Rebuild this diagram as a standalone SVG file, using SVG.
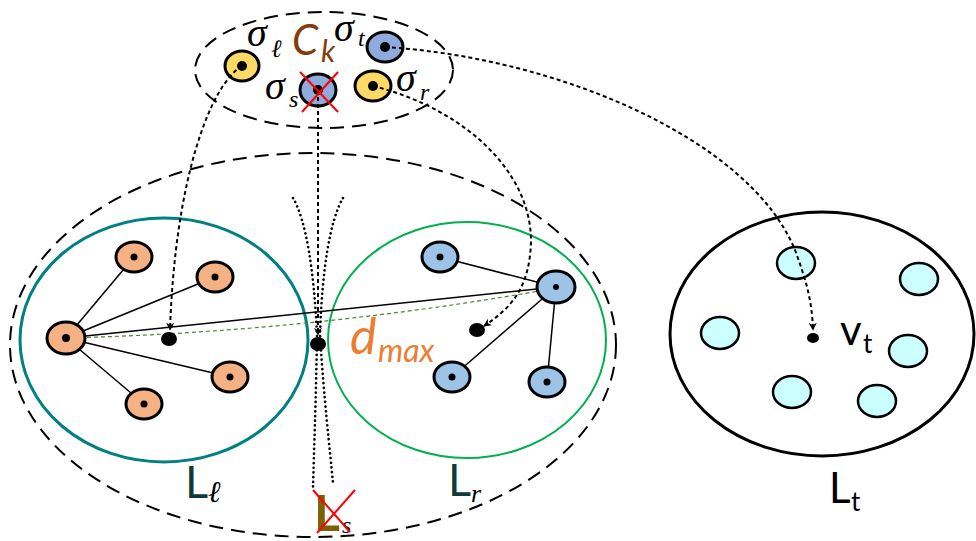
<svg xmlns="http://www.w3.org/2000/svg" width="976" height="541" viewBox="0 0 976 541">
  <style>
    .region-dash { fill: none; stroke: #000; stroke-width: 2; stroke-dasharray: 14 8; }
    .node { stroke: #000; stroke-width: 3; }
    .orange { fill: #F4B183; }
    .blue { fill: #9DC3E6; }
    .cyan { fill: #CCFFFF; stroke: #000; stroke-width: 2.5; }
    .sig-y { fill: #FFD966; stroke: #000; stroke-width: 3; }
    .sig-b { fill: #8FAADC; stroke: #000; stroke-width: 3; }
    .edge { stroke: #000; stroke-width: 1.5; fill: none; }
    .map { fill: none; stroke: #000; stroke-width: 2; stroke-dasharray: 4 3; }
    .dots { fill: none; stroke: #000; stroke-width: 2.6; stroke-dasharray: 0.1 4.6; stroke-linecap: round; }
    .sym { font-family: "Liberation Serif", serif; font-style: italic; fill: #000; }
    .lbl { font-family: Lato, "Open Sans", sans-serif; }
    .cross { stroke: #FF0000; stroke-width: 2; }
  </style>
  <defs>
    <marker id="arrow" viewBox="0 0 10 10" refX="9" refY="5" markerWidth="8" markerHeight="8" orient="auto" markerUnits="userSpaceOnUse">
      <path d="M0,0 L10,5 L0,10 L3,5 z" fill="#000"/>
    </marker>
  </defs>

  <!-- partition regions -->
  <g id="Ls">
    <ellipse cx="313" cy="345" rx="303" ry="192" class="region-dash"/>
  </g>
  <g id="Ll">
    <ellipse cx="164" cy="340" rx="144" ry="122" fill="none" stroke="#008080" stroke-width="3"/>
  </g>
  <g id="Lr">
    <ellipse cx="467" cy="340" rx="139" ry="118" fill="none" stroke="#00B050" stroke-width="2"/>
  </g>
  <g id="Lt">
    <ellipse cx="822" cy="334" rx="152" ry="122" fill="none" stroke="#000" stroke-width="3"/>
  </g>
  <g id="Ck">
    <ellipse cx="324" cy="70" rx="129" ry="58" class="region-dash"/>
  </g>

  <!-- edges inside the clusters and the diameter -->
  <g id="edges">
    <line x1="66" y1="338" x2="134" y2="257" class="edge"/>
    <line x1="66" y1="338" x2="215" y2="277" class="edge"/>
    <line x1="66" y1="338" x2="230" y2="377" class="edge"/>
    <line x1="66" y1="338" x2="144" y2="404" class="edge"/>
    <line x1="66" y1="338" x2="556" y2="287" class="edge"/>
    <line x1="556" y1="287" x2="440" y2="257" class="edge"/>
    <line x1="556" y1="287" x2="452" y2="377" class="edge"/>
    <line x1="556" y1="287" x2="547" y2="382" class="edge"/>
    <path d="M66,338 Q311,332 556,288" fill="none" stroke="#548235" stroke-width="1.2" stroke-dasharray="4 3"/>
  </g>

  <!-- nodes of L_l -->
  <g id="l-nodes">
    <g id="l0"><ellipse cx="66" cy="338" rx="19" ry="16" class="node orange"/><circle cx="66" cy="338" r="4"/></g>
    <g id="l1"><ellipse cx="134" cy="257" rx="18" ry="15" class="node orange"/><circle cx="134" cy="257" r="3.5"/></g>
    <g id="l2"><ellipse cx="215" cy="277" rx="18" ry="15" class="node orange"/><circle cx="215" cy="277" r="3.5"/></g>
    <g id="l3"><ellipse cx="230" cy="377" rx="18" ry="15" class="node orange"/><circle cx="230" cy="377" r="3.5"/></g>
    <g id="l4"><ellipse cx="144" cy="404" rx="18" ry="15" class="node orange"/><circle cx="144" cy="404" r="3.5"/></g>
  </g>

  <!-- nodes of L_r -->
  <g id="r-nodes">
    <g id="r0"><ellipse cx="556" cy="287" rx="19" ry="16" class="node blue"/><circle cx="556" cy="287" r="3"/></g>
    <g id="r1"><ellipse cx="440" cy="257" rx="18" ry="15" class="node blue"/><circle cx="440" cy="257" r="3.5"/></g>
    <g id="r2"><ellipse cx="452" cy="377" rx="18" ry="15" class="node blue"/><circle cx="452" cy="377" r="3.5"/></g>
    <g id="r3"><ellipse cx="547" cy="382" rx="18" ry="15" class="node blue"/><circle cx="547" cy="382" r="3.5"/></g>
  </g>

  <!-- nodes of L_t -->
  <g id="t-nodes">
    <ellipse id="t1" cx="796" cy="263" rx="19" ry="16" class="cyan"/>
    <ellipse id="t2" cx="919" cy="279" rx="19" ry="16" class="cyan"/>
    <ellipse id="t3" cx="720" cy="333" rx="19" ry="16" class="cyan"/>
    <ellipse id="t4" cx="908" cy="351" rx="19" ry="16" class="cyan"/>
    <ellipse id="t5" cx="792" cy="392" rx="19" ry="16" class="cyan"/>
    <ellipse id="t6" cx="877" cy="401" rx="19" ry="16" class="cyan"/>
  </g>

  <!-- mapped centres -->
  <g id="centres">
    <ellipse id="c-l" cx="169" cy="339" rx="8" ry="7"/>
    <ellipse id="c-s" cx="318" cy="344" rx="8" ry="7"/>
    <ellipse id="c-r" cx="477" cy="330" rx="8" ry="7"/>
    <ellipse id="c-t" cx="813" cy="338" rx="6" ry="5"/>
  </g>

  <!-- cluster C_k members -->
  <g id="sigma-l"><ellipse cx="242" cy="66" rx="17" ry="15" class="sig-y"/><circle cx="242" cy="66" r="5"/></g>
  <g id="sigma-s"><ellipse cx="318" cy="90" rx="18" ry="16" class="sig-b"/><circle cx="318" cy="90" r="5"/></g>
  <g id="sigma-t"><ellipse cx="385" cy="47" rx="18" ry="15" class="sig-b"/><circle cx="385" cy="47" r="5"/></g>
  <g id="sigma-r"><ellipse cx="373" cy="86" rx="18" ry="15" class="sig-y"/><circle cx="373" cy="86" r="5"/></g>

  <!-- connectors -->
  <g id="connectors">
    <path d="M242,66 C210,85 175,180 170,330" class="map" marker-end="url(#arrow)"/>
    <path d="M318,90 L318,335" class="map" marker-end="url(#arrow)"/>
    <path d="M373,86 C470,110 540,180 530,255 C526,292 508,310 484,326" class="map" marker-end="url(#arrow)"/>
    <path d="M385,47 C560,58 750,140 795,250 C806,280 812,300 813,330" class="map" marker-end="url(#arrow)"/>
    <path d="M293,198 C306,220 314,270 317,335 C316,400 314,450 313,487" class="dots"/>
    <path d="M343,198 C330,220 322,270 320,335 C324,400 330,450 333,483" class="dots"/>
  </g>

  <!-- crosses -->
  <g id="cross-sigma-s">
    <line x1="300" y1="72" x2="338" y2="112" class="cross"/>
    <line x1="338" y1="72" x2="302" y2="112" class="cross"/>
  </g>

  <!-- labels -->
  <g id="labels">
    <text x="247" y="46" class="sym" font-size="40">σ</text>
    <text x="271" y="57" class="sym" font-size="25">ℓ</text>
    <text x="334" y="41" class="sym" font-size="40">σ</text>
    <text x="358" y="46" class="sym" font-size="24">t</text>
    <text x="265" y="99" class="sym" font-size="40">σ</text>
    <text x="289" y="107" class="sym" font-size="24">s</text>
    <text x="396" y="91" class="sym" font-size="40">σ</text>
    <text x="420" y="100" class="sym" font-size="24">r</text>
    <text x="292" y="55" class="lbl" font-size="42" font-style="italic" fill="#843C0C">C</text>
    <text x="321" y="62" class="lbl" font-size="30" font-style="italic" fill="#843C0C">k</text>

    <text x="350" y="354" class="lbl" font-size="50" font-style="italic" fill="#ED7D31">d</text>
    <text x="378" y="362" class="lbl" font-size="32" font-style="italic" fill="#ED7D31">max</text>

    <text x="840" y="345" class="lbl" font-size="42" fill="#000">v</text>
    <text x="863" y="353" class="lbl" font-size="26" fill="#000">t</text>

    <text x="185" y="498" class="lbl" font-size="45" fill="#0D3B3B">L</text>
    <text x="208" y="502" class="sym" font-size="30" fill="#0D3B3B">ℓ</text>
    <text x="448" y="496" class="lbl" font-size="45" fill="#0D3B3B">L</text>
    <text x="471" y="502" class="sym" font-size="26" fill="#0D3B3B">r</text>
    <text x="829" y="503" class="lbl" font-size="42" fill="#000">L</text>
    <text x="851" y="511" class="lbl" font-size="26" fill="#000">t</text>

    <text x="314" y="531" class="lbl" font-size="50" font-weight="bold" fill="#7F6000">L</text>
    <text x="342" y="533" class="sym" font-size="24" fill="#7F6000">s</text>
  </g>
  <g id="cross-Ls">
    <line x1="313" y1="490" x2="350" y2="532" class="cross"/>
    <line x1="355" y1="490" x2="317" y2="533" class="cross"/>
  </g>
</svg>
